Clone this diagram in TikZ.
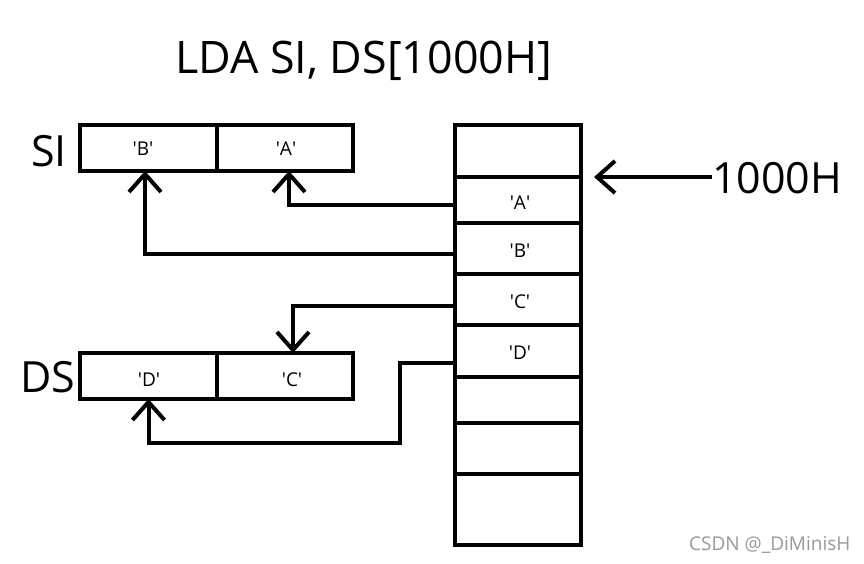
\documentclass[tikz,border=0pt]{standalone}
\usepackage{fontspec}
\setmainfont{Open Sans}
\usetikzlibrary{arrows.meta}
\newcommand{\sq}{\textquotesingle}
\begin{document}
\begin{tikzpicture}[x=1pt,y=-1pt,
  cell/.style={draw, line width=4pt, outer sep=0pt, inner sep=0pt},
  conn/.style={line width=4pt, -{Straight Barb[length=18pt,width=32pt,line width=4pt]}},
  big/.style={font=\fontsize{43}{50}\selectfont, inner sep=0pt},
  small/.style={font=\fontsize{19}{22}\selectfont, inner sep=0pt}]
\useasboundingbox[fill=white] (0,0) rectangle (864,563);
% title
\node[big, font=\fontsize{44.8}{52}\selectfont, anchor=base west] (title) at (175,73) {LDA SI, DS[1000H]};
% memory column
\node[cell, minimum width=126pt, minimum height=52pt] (m0) at (518,151) {};
\node[cell, minimum width=126pt, minimum height=46pt] (m1) at (518,200) {};
\node[cell, minimum width=126pt, minimum height=51pt] (m2) at (518,248.5) {};
\node[cell, minimum width=126pt, minimum height=51pt] (m3) at (518,299.5) {};
\node[cell, minimum width=126pt, minimum height=52pt] (m4) at (518,351) {};
\node[cell, minimum width=126pt, minimum height=46pt] (m5) at (518,400) {};
\node[cell, minimum width=126pt, minimum height=51pt] (m6) at (518,448.5) {};
\node[cell, minimum width=126pt, minimum height=71pt] (m7) at (518,509.5) {};
\node[small, anchor=base] (lA) at (520,209) {\sq A\sq};
\node[small, anchor=base] (lB) at (520,257) {\sq B\sq};
\node[small, anchor=base] (lC) at (520,308) {\sq C\sq};
\node[small, anchor=base] (lD) at (520,359) {\sq D\sq};
% SI register
\node[cell, minimum width=137pt, minimum height=46pt] (siB) at (148.5,148) {};
\node[cell, minimum width=136pt, minimum height=46pt] (siA) at (285,148) {};
\node[small, anchor=base] (siBt) at (143,155) {\sq B\sq};
\node[small, anchor=base] (siAt) at (286,155) {\sq A\sq};
\node[big, anchor=base west] (siL) at (31,166) {SI};
% DS register
\node[cell, minimum width=137pt, minimum height=46pt] (dsD) at (148.5,376) {};
\node[cell, minimum width=136pt, minimum height=46pt] (dsC) at (285,376) {};
\node[small, anchor=base] (dsDt) at (149,386) {\sq D\sq};
\node[small, anchor=base] (dsCt) at (292,386) {\sq C\sq};
\node[big, anchor=base west] (dsL) at (20,392) {DS};
% address
\node[big, anchor=base west] (addr) at (712,193) {1000H};
\coordinate (tip) at ([xshift=13pt]m1.north east);
\draw[conn] (addr.west |- tip) -- (tip);
% connectors
\draw[conn] ([yshift=-5pt]m1.west) -| ([xshift=4pt]siA.south);
\draw[conn] ([yshift=-5.5pt]m2.west) -| ([xshift=-3.5pt]siB.south);
\draw[conn] ([yshift=-6.5pt]m3.west) -| ([xshift=8pt]dsC.north);
\coordinate (dturn) at (400,443);
\draw[conn] ([yshift=-12pt]m4.west) -| (dturn) -| (dsD.south);
% watermark
\node[font=\fontsize{19}{22}\selectfont, text=black!40, anchor=base west, inner sep=0pt] (wm) at (689,550) {CSDN @\_DiMinisH};
\end{tikzpicture}
\end{document}
